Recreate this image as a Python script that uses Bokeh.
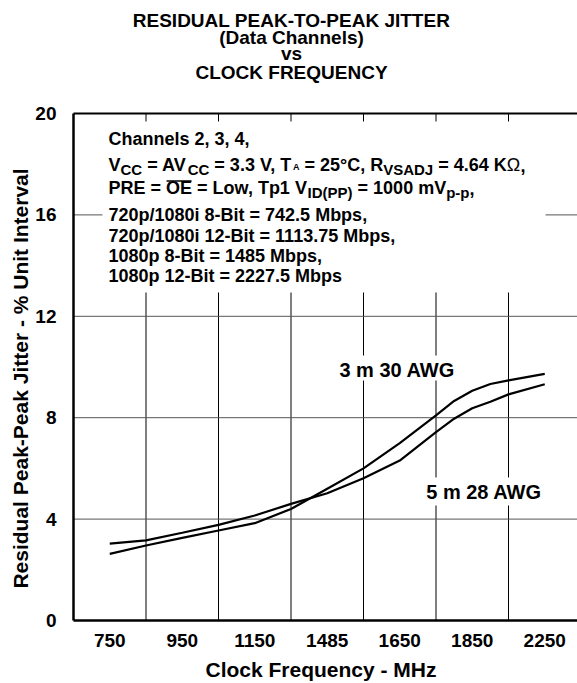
from bokeh.plotting import figure
from bokeh.models import Range1d, FixedTicker, LinearAxis, Label
from bokeh.embed import file_html
from bokeh.resources import INLINE

# ---------------- data ----------------
categories = ["750", "950", "1150", "1485", "1650", "1850", "2250"]
y_ticks = [0, 4, 8, 12, 16, 20]
# positions along the category axis (category i is centred at i + 0.5)
x_pos = [0.5, 1.0, 1.5, 2.0, 2.5, 3.0, 3.5, 4.0, 4.5, 5.0, 5.25, 5.5, 5.75, 6.0, 6.5]
jitter_3m_30awg = [2.63, 2.96, 3.26, 3.55, 3.84, 4.40, 5.20, 6.00, 7.00, 8.09, 8.66, 9.06, 9.33, 9.47, 9.73]
jitter_5m_28awg = [3.03, 3.16, 3.46, 3.77, 4.14, 4.60, 5.02, 5.61, 6.31, 7.43, 7.96, 8.37, 8.63, 8.92, 9.32]

title_lines = ["RESIDUAL PEAK-TO-PEAK JITTER", "(Data Channels)", "vs", "CLOCK FREQUENCY"]
x_title = "Clock Frequency - MHz"
y_title = "Residual Peak-Peak Jitter - % Unit Interval"
note_lines = [
    [("Channels 2, 3, 4,", "n")],
    [("V", "n"), ("CC", "s"), (" = AV", "n"), ("CC", "s"), (" = 3.3 V, T", "n"), ("A", "a"),
     (" = 25°C, R", "n"), ("VSADJ", "s"), (" = 4.64 K", "n"), ("Ω", "o"), (",", "n")],
    [("PRE = ", "n"), ("OE", "ov"), (" = Low, Tp1 V", "n"), ("ID(PP)", "s"), (" = 1000 mV", "n"),
     ("p-p", "s"), (",", "n")],
    [("720p/1080i 8-Bit = 742.5 Mbps,", "n")],
    [("720p/1080i 12-Bit = 1113.75 Mbps,", "n")],
    [("1080p 8-Bit = 1485 Mbps,", "n")],
    [("1080p 12-Bit = 2227.5 Mbps", "n")],
]
label_3m = "3 m 30 AWG"
label_5m = "5 m 28 AWG"

# ---------------- layout constants (picture pixels) ----------------
W, H = 577, 683
AX_L, AX_T, AX_B = 73, 113, 620
CELL = 72.5
PX_PER_Y = (AX_B - AX_T) / 20.0
FONT = "Liberation Sans"
X_END = (W - AX_L) / CELL


def px_x(X):
    return (X - AX_L) / CELL


def px_y(Y):
    return (AX_B - Y) / PX_PER_Y


# Arial / Liberation Sans Bold advance widths (per 1000 em)
AW = {" ": 278, ",": 278, ".": 278, "-": 333, "/": 278, "(": 333, ")": 333, "=": 584, "°": 400,
      "Ω": 768, "%": 889, "'": 238}
for c in "0123456789":
    AW[c] = 556
AW.update(dict(zip("ABCDEFGHIJKLMNOPQRSTUVWXYZ",
                   [722, 722, 722, 722, 667, 611, 778, 722, 278, 556, 722, 611, 833, 722, 778, 667,
                    778, 722, 667, 611, 722, 667, 944, 667, 667, 611])))
AW.update(dict(zip("abcdefghijklmnopqrstuvwxyz",
                   [556, 611, 556, 611, 556, 333, 611, 611, 278, 278, 556, 278, 889, 611, 611, 611,
                    611, 389, 556, 333, 611, 556, 778, 556, 556, 500])))


def tw(s, size):
    return sum(AW.get(c, 600) for c in s) * size / 1000.0


# size, weight, baseline shift (px, downwards)
STY = {"n": (18, "bold", 0), "ov": (18, "bold", 0), "s": (15, "bold", 3),
       "a": (9, "bold", -1), "o": (18, "normal", 0)}


def add_text(X, Y_center, txt, size, weight="bold", align="left", angle=0.0):
    p.add_layout(Label(x=px_x(X), y=px_y(Y_center), text=txt, text_align=align,
                       text_baseline="middle", angle=angle, text_font=FONT,
                       text_font_style=weight, text_font_size=f"{size}px", text_color="black"))


p = figure(width=W, height=H,
           x_range=Range1d(px_x(0), px_x(W)), y_range=Range1d(px_y(H), px_y(0)),
           output_backend="svg", toolbar_location=None, min_border=0,
           x_axis_location=None, y_axis_location=None)
p.outline_line_color = None
p.background_fill_color = "white"
p.border_fill_color = "white"
p.grid.visible = False

# grid lines, limited to the plotting area
v_grid = list(range(1, len(categories)))
h_grid = [t for t in y_ticks if 0 < t < 20]
p.segment(x0=v_grid, x1=v_grid, y0=[0] * len(v_grid), y1=[20] * len(v_grid),
          line_color="black", line_width=1, level="underlay")
p.segment(x0=[0] * len(h_grid), x1=[X_END] * len(h_grid), y0=h_grid, y1=h_grid,
          line_color="#555555", line_width=1, level="underlay")

# white backgrounds behind texts (break the grid lines)
p.quad(left=[px_x(102), px_x(332), px_x(419)], right=[px_x(545), px_x(461), px_x(548)],
       top=[px_y(121), px_y(355), px_y(477)], bottom=[px_y(292), px_y(380), px_y(505)],
       fill_color="white", line_color=None, level="underlay")

# bottom axis, fixed at y = 0
xa = LinearAxis(fixed_location=0, bounds=(0, X_END),
                ticker=FixedTicker(ticks=[i + 0.5 for i in range(len(categories))]),
                major_label_overrides={i + 0.5: c for i, c in enumerate(categories)},
                axis_line_width=2.5, axis_line_color="black",
                major_tick_line_color=None, minor_tick_line_color=None,
                major_label_standoff=7, major_label_text_font=FONT,
                major_label_text_font_style="bold", major_label_text_font_size="19px",
                major_label_text_color="black")
p.add_layout(xa, "below")

# left axis, fixed at x = 0
ya = LinearAxis(fixed_location=0, bounds=(0, 20), ticker=FixedTicker(ticks=y_ticks),
                axis_line_width=2.5, axis_line_color="black",
                major_tick_line_color=None, minor_tick_line_color=None,
                major_label_standoff=11, major_label_text_font=FONT,
                major_label_text_font_style="bold", major_label_text_font_size="19px",
                major_label_text_color="black")
p.add_layout(ya, "left")

# top border line at y = 20
top = LinearAxis(fixed_location=20, bounds=(0, X_END), ticker=FixedTicker(ticks=[]),
                 axis_line_width=2, axis_line_color="black",
                 major_tick_line_color=None, minor_tick_line_color=None,
                 major_label_text_font_size="0px")
p.add_layout(top, "above")

# curves
p.line(x_pos, jitter_3m_30awg, line_color="black", line_width=2.2)
p.line(x_pos, jitter_5m_28awg, line_color="black", line_width=2.2)

# curve labels
add_text(396.7, 369.5, label_3m, 20, align="center")
add_text(483.5, 491.0, label_5m, 20, align="center")

# title
for txt, cy in zip(title_lines, [19.5, 36.5, 53.0, 71.5]):
    add_text(291, cy, txt, 19, align="center")

# axis titles
add_text(320.5, 669, x_title, 21, align="center")
add_text(20, 378, y_title, 21, align="center", angle=1.5707963)

# conditions note with subscripts
baselines = [145, 171, 194.3, 220.7, 241.7, 261.7, 281.7]
for segs, base in zip(note_lines, baselines):
    x = 108.0
    for txt, kind in segs:
        size, weight, dy = STY[kind]
        core = txt.strip(" ")
        lead = len(txt) - len(txt.lstrip(" "))
        trail = len(txt) - len(txt.rstrip(" "))
        x += lead * tw(" ", size)
        add_text(x, base + dy - 0.358 * size, core, size, weight=weight)
        w = tw(core, size)
        if kind == "ov":
            p.segment(x0=[px_x(x + 0.5)], x1=[px_x(x + w - 0.5)], y0=[px_y(180.5)],
                      y1=[px_y(180.5)], line_color="black", line_width=1.5)
        x += w + trail * tw(" ", size)

open("out.html", "w").write(file_html(p, INLINE))
